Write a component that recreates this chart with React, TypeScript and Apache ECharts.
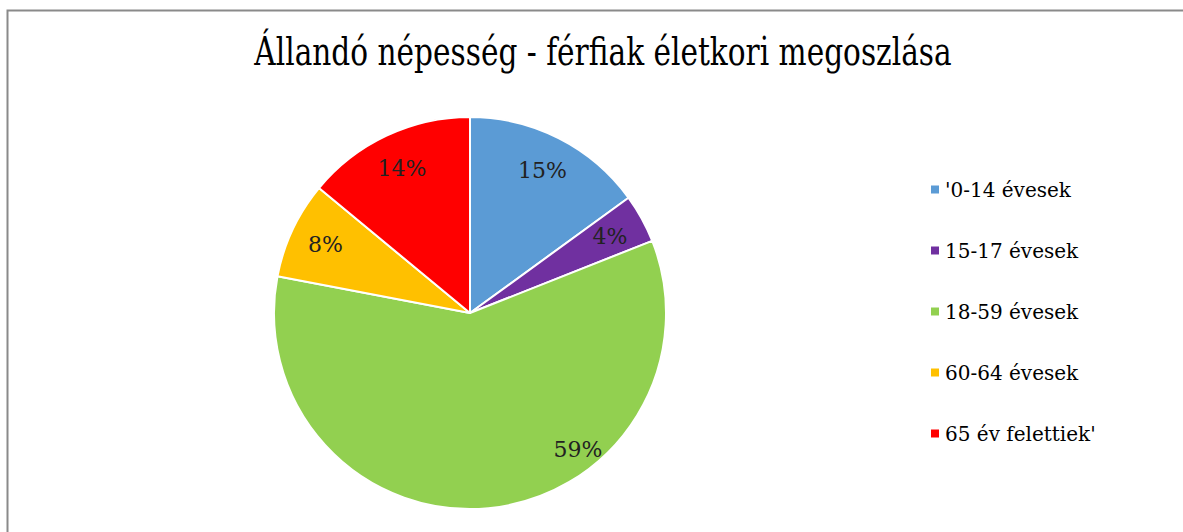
import React, { useEffect, useRef } from "react";
import * as echarts from "echarts";

const TITLE = "Állandó népesség - férfiak életkori megoszlása";
const categories = ["'0-14 évesek", "15-17 évesek", "18-59 évesek", "60-64 évesek", "65 év felettiek'"];
const values = [15, 4, 59, 8, 14];
const colors = ["#5B9BD5", "#7030A0", "#92D050", "#FFC000", "#FF0000"];
const labelOffsets: Record<number, [number, number]> = { 2: [93, -23] };

const FONT = "DejaVu Serif";

export default function App() {
  const ref = useRef<HTMLDivElement>(null);
  useEffect(() => {
    if (!ref.current) return;
    const chart = echarts.init(ref.current, undefined, { renderer: "svg" });
    const center = [470, 313];
    const R = 196;
    chart.setOption({
      animation: false,
      backgroundColor: "#ffffff",
      legend: {
        orient: "vertical",
        left: 924,
        top: 174,
        itemWidth: 10,
        itemHeight: 10,
        itemGap: 40,
        itemTextGap: 6,
        icon: "rect",
        data: categories,
        textStyle: { fontFamily: FONT, fontSize: 20, lineHeight: 21, color: "#000" },
      },
      graphic: [
        {
          type: "text",
          x: 603,
          y: 51,
          scaleX: 0.74,
          style: {
            text: TITLE,
            align: "center",
            verticalAlign: "middle",
            fontFamily: FONT,
            fontSize: 40,
            fill: "#000",
          },
        },
        {
          type: "rect",
          shape: { x: 7.5, y: 10.5, width: 1300, height: 700 },
          style: { fill: "none", stroke: "#8a8a8a", lineWidth: 2 },
          z: 100,
        },
      ],
      series: [
        {
          type: "pie",
          center,
          radius: R,
          startAngle: 90,
          clockwise: true,
          label: { show: false },
          labelLine: { show: false },
          itemStyle: { borderColor: "#ffffff", borderWidth: 2 },
          data: categories.map((name, i) => ({ name, value: values[i], itemStyle: { color: colors[i] } })),
        },
        {
          type: "pie",
          center,
          radius: [R * 0.6, R],
          startAngle: 90,
          clockwise: true,
          silent: true,
          legendHoverLink: false,
          itemStyle: { color: "rgba(0,0,0,0)" },
          label: {
            show: true,
            position: "inside",
            formatter: "{d}%",
            fontFamily: FONT,
            fontSize: 22,
            color: "#222",
          },
          labelLine: { show: false },
          data: categories.map((name, i) => ({
            name: name + " ",
            value: values[i],
            label: labelOffsets[i] ? { offset: labelOffsets[i] } : undefined,
          })),
        },
      ],
    });
    return () => chart.dispose();
  }, []);
  return <div ref={ref} style={{ position: "fixed", left: 0, top: 0, width: 1183, height: 532 }} />;
}
